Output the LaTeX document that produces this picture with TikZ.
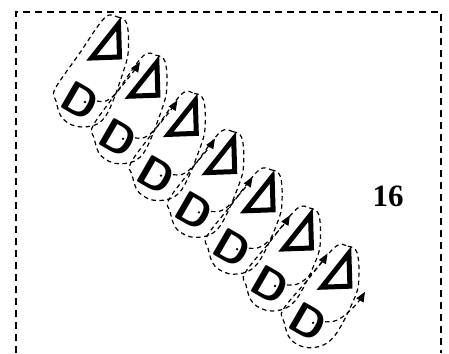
\documentclass[tikz,border=0pt]{standalone}
\usepackage{fontspec}
\newfontfamily\numfont{Liberation Serif}
\usetikzlibrary{calc,arrows.meta}
\begin{document}
\begin{tikzpicture}[x=1pt,y=-1pt,
  route/.style={dash pattern=on 4.5pt off 3.5pt,line width=1.2pt},
  player/.style={font=\fontsize{44}{44}\selectfont\sffamily\bfseries,inner sep=0pt,rotate=-30}]
  \useasboundingbox (0,0) rectangle (449,353);
  \draw[line width=1.5pt,dash pattern=on 7pt off 5pt] (16,353) -- (16,12) -- (441,12) -- (441,353);
  \foreach \i in {1,...,7}{
    \coordinate (t\i) at ({109.5+38.4*(\i-1)},{46+38.2*(\i-1)});
    \coordinate (a\i) at ({140+37.5*(\i-1)},{62+38.3*(\i-1)});
    \node[player] (d\i) at ({80+38*(\i-1)},{101+36.8*(\i-1)}) {D};
    \fill ($(d\i)+(5,1)$) circle (1.3);
    \draw[line width=5pt,line join=miter] ($(t\i)+(9,-22)$) -- ($(t\i)+(10,11)$) -- ($(t\i)+(-18,12)$) -- cycle;
    \draw[route] plot[smooth cycle,tension=0.6] coordinates {($(t\i)+(-5,-28)$) ($(t\i)+(8,-29)$)
      ($(t\i)+(17,-23)$) ($(t\i)+(19,0)$) ($(t\i)+(15,22)$) ($(d\i)+(25,16)$) ($(d\i)+(2,26)$)
      ($(d\i)+(-17,18)$) ($(d\i)+(-24,0)$) ($(d\i)+(-25,-12)$) ($0.5*(d\i)+0.5*(t\i)+(-16,-19)$)};
    \draw[route,-{Triangle[length=10pt,width=8pt]}] plot[smooth,tension=0.6] coordinates {($(d\i)+(17,0)$)
      ($(d\i)+(30,-2)$) ($(a\i)+(-10,14)$) (a\i)};
  }
  \node[font=\numfont\fontsize{31}{31}\selectfont\bfseries] (num) at (388,196) {16};
\end{tikzpicture}
\end{document}
